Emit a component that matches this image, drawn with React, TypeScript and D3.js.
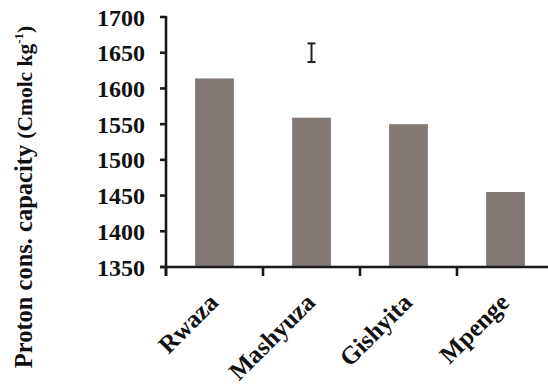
import React from "react";
import * as d3 from "d3";

const sites = ["Rwaza", "Mashyuza", "Gishyita", "Mpenge"];
const capacity = [1614, 1559, 1550, 1455];
const yTicks = [1350, 1400, 1450, 1500, 1550, 1600, 1650, 1700];
// LSD-style error bar drawn above the second site
const errorSite = "Mashyuza";
const errorRange = [1637, 1663];

const W = 548;
const H = 387;
const FONT = "'Liberation Serif', 'Times New Roman', serif";

export default function App() {
  const y = d3.scaleLinear().domain([1350, 1700]).range([267, 17]);
  const x = d3
    .scaleBand<string>()
    .domain(sites)
    .range([166, 554])
    .paddingInner(0.6)
    .paddingOuter(0.3);
  const step = x.step();
  const x0 = 166;
  const axisColor = "#1a1a1a";
  const ex = (x(errorSite) ?? 0) + x.bandwidth() / 2;

  return (
    <svg
      width={W}
      height={H}
      style={{ position: "absolute", left: 0, top: 0, background: "#fff" }}
      fontFamily={FONT}
    >
      {/* bars */}
      {sites.map((s, i) => (
        <rect
          key={s}
          x={x(s)}
          y={y(capacity[i])}
          width={x.bandwidth()}
          height={y(1350) - y(capacity[i])}
          fill="#837a75"
        />
      ))}

      {/* y axis */}
      <line x1={x0} x2={x0} y1={16} y2={276} stroke={axisColor} strokeWidth={2.6} />
      {yTicks.map((t) => (
        <g key={t}>
          <line x1={x0 - 6} x2={x0} y1={y(t)} y2={y(t)} stroke={axisColor} strokeWidth={2.6} />
          <text
            x={145}
            y={y(t)}
            dy={8.5}
            textAnchor="end"
            fontSize={24}
            fontWeight="bold"
            fill="#111"
          >
            {t}
          </text>
        </g>
      ))}

      {/* x axis */}
      <line x1={160} x2={W} y1={y(1350)} y2={y(1350)} stroke={axisColor} strokeWidth={2.6} />
      {sites.map((s, i) => (
        <line
          key={s}
          x1={x0 + i * step}
          x2={x0 + i * step}
          y1={y(1350)}
          y2={276}
          stroke={axisColor}
          strokeWidth={2.6}
        />
      ))}
      {sites.map((s) => {
        const cx = (x(s) ?? 0) + x.bandwidth() / 2 + 5;
        const cy = 304;
        return (
          <text
            key={s}
            transform={`translate(${cx},${cy}) rotate(-45)`}
            textAnchor="end"
            fontSize={25}
            fontWeight="bold"
            fill="#111"
          >
            {s}
          </text>
        );
      })}

      {/* error bar */}
      <g stroke="#222" strokeWidth={2}>
        <line x1={ex} x2={ex} y1={y(errorRange[0])} y2={y(errorRange[1])} />
        <line x1={ex - 4} x2={ex + 4} y1={y(errorRange[0])} y2={y(errorRange[0])} />
        <line x1={ex - 4} x2={ex + 4} y1={y(errorRange[1])} y2={y(errorRange[1])} />
      </g>

      {/* y axis title */}
      <text
        transform={`translate(32,197) rotate(-90)`}
        textAnchor="middle"
        fontSize={24.5}
        fontWeight="bold"
        fill="#111"
      >
        Proton cons. capacity{" "}
        <tspan fontSize={21.5}>(Cmolc kg</tspan>
        <tspan fontSize={13} dy={-9}>-1</tspan>
        <tspan fontSize={21.5} dy={9}>)</tspan>
      </text>
    </svg>
  );
}
